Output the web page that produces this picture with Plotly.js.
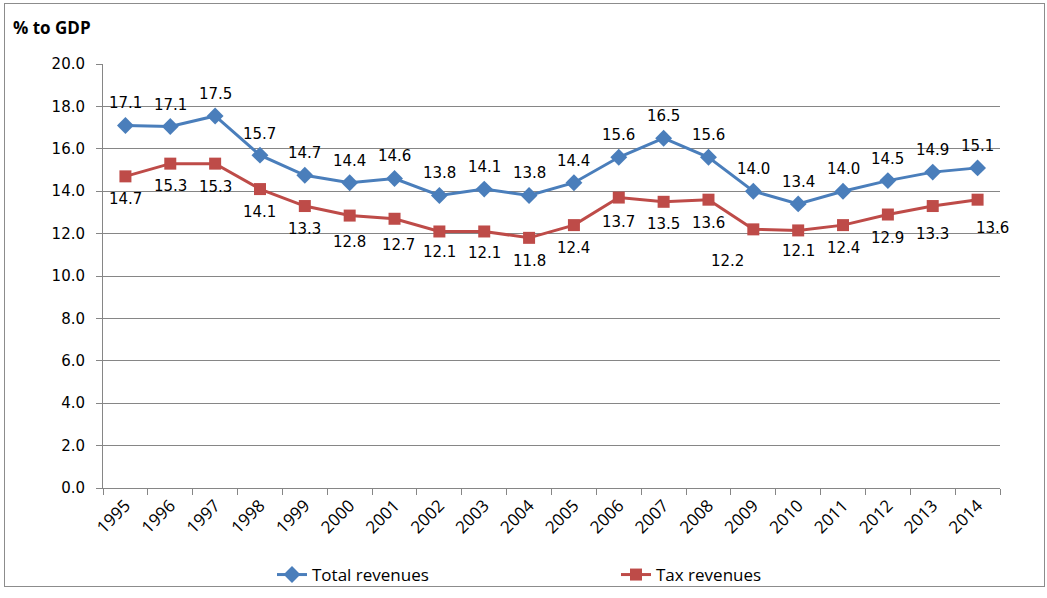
<!DOCTYPE html>
<html>
<head>
<meta charset="utf-8">
<script src="https://cdn.plot.ly/plotly-3.0.1.min.js"></script>
<style>
html,body{margin:0;padding:0;background:#fff;}
#frame{position:absolute;left:4px;top:3px;width:1041px;height:584px;border:1px solid #8c8c8c;box-sizing:border-box;}
#chart{position:absolute;left:0;top:0;width:1047px;height:598px;}
</style>
</head>
<body>
<div id="frame"></div>
<div id="chart"></div>
<script>
const years = ['1995','1996','1997','1998','1999','2000','2001','2002','2003','2004','2005','2006','2007','2008','2009','2010','2011','2012','2013','2014'];
const totalRevenues = [17.1,17.05,17.55,15.7,14.75,14.4,14.6,13.8,14.1,13.8,14.4,15.6,16.5,15.6,14.0,13.4,14.0,14.5,14.9,15.1];
const taxRevenues = [14.7,15.3,15.3,14.1,13.3,12.85,12.7,12.1,12.1,11.8,12.4,13.7,13.5,13.6,12.2,12.15,12.4,12.9,13.3,13.6];
const totalLabels = ['17.1','17.1','17.5','15.7','14.7','14.4','14.6','13.8','14.1','13.8','14.4','15.6','16.5','15.6','14.0','13.4','14.0','14.5','14.9','15.1'];
const taxLabels = ['14.7','15.3','15.3','14.1','13.3','12.8','12.7','12.1','12.1','11.8','12.4','13.7','13.5','13.6','12.2','12.1','12.4','12.9','13.3','13.6'];

// label offsets (px)
const totalDy = [22,22,22,21,22,22,22,22,22,22,22,22,22,22,22,22,22,22,22,22];
const taxDx = [0,0,0,0,0,0,4,0,0,0,0,0,0,0,-26,0,0,0,0,15];
const taxDy = [-23,-22,-23,-23,-23,-26,-26,-21,-22,-23,-23,-24,-22,-23,-32,-21,-23,-23,-28,-28];

const blue = '#4a7ebb';
const red = '#be4b48';
const labelFont = {family:'DejaVu Sans, Verdana, sans-serif', size:15, color:'#000'};

const annotations = [];
years.forEach((y,i)=>{
  annotations.push({x:i, y:totalRevenues[i], xref:'x', yref:'y', text:totalLabels[i], showarrow:false,
    yshift:totalDy[i], font:labelFont, xanchor:'center', yanchor:'middle'});
  annotations.push({x:i, y:taxRevenues[i], xref:'x', yref:'y', text:taxLabels[i], showarrow:false,
    xshift:taxDx[i], yshift:taxDy[i], font:labelFont, xanchor:'center', yanchor:'middle'});
});
annotations.push({xref:'paper', yref:'paper', x:-92/897, y:(488-27)/424, xanchor:'left', yanchor:'middle',
  text:'<b>% to GDP</b>', showarrow:false, font:{family:'Open Sans, sans-serif', size:17, color:'#000'}});

const traces = [
  {x:years, y:totalRevenues, name:'Total revenues', type:'scatter', mode:'lines+markers',
   line:{color:blue, width:3}, marker:{symbol:'diamond', size:13, color:blue}, hoverinfo:'y'},
  {x:years, y:taxRevenues, name:'Tax revenues', type:'scatter', mode:'lines+markers',
   line:{color:red, width:3}, marker:{symbol:'square', size:12, color:red}, hoverinfo:'y'}
];

const layout = {
  width:1047, height:598,
  margin:{l:103, r:47, t:64, b:110},
  paper_bgcolor:'rgba(0,0,0,0)', plot_bgcolor:'rgba(0,0,0,0)',
  showlegend:true,
  legend:{orientation:'h', xref:'container', yref:'container', x:272/1047, y:(598-575)/598,
    xanchor:'left', yanchor:'middle', entrywidth:299, entrywidthmode:'pixels',
    font:{family:'Open Sans, sans-serif', size:17, color:'#000'}},
  xaxis:{type:'category', categoryorder:'array', categoryarray:years, range:[-0.5, years.length-0.5], autorange:false,
    showgrid:false, showline:true, linecolor:'#868686', linewidth:1,
    ticks:'outside', ticklen:6, tickcolor:'#868686', tickson:'boundaries', tickangle:-45,
    tickfont:{family:'Open Sans, sans-serif', size:17, color:'#000'}, fixedrange:true},
  yaxis:{range:[0,20], autorange:false, dtick:2, tickformat:'.1f', showgrid:true, gridcolor:'#868686', gridwidth:1,
    showline:true, linecolor:'#868686', linewidth:1, zeroline:false,
    ticks:'outside', ticklen:6, tickcolor:'#868686', ticklabelstandoff:8,
    tickfont:{family:'DejaVu Sans, Verdana, sans-serif', size:15, color:'#000'}, fixedrange:true},
  annotations:annotations
};

Plotly.newPlot('chart', traces, layout, {displayModeBar:false, staticPlot:true});
</script>
</body>
</html>
